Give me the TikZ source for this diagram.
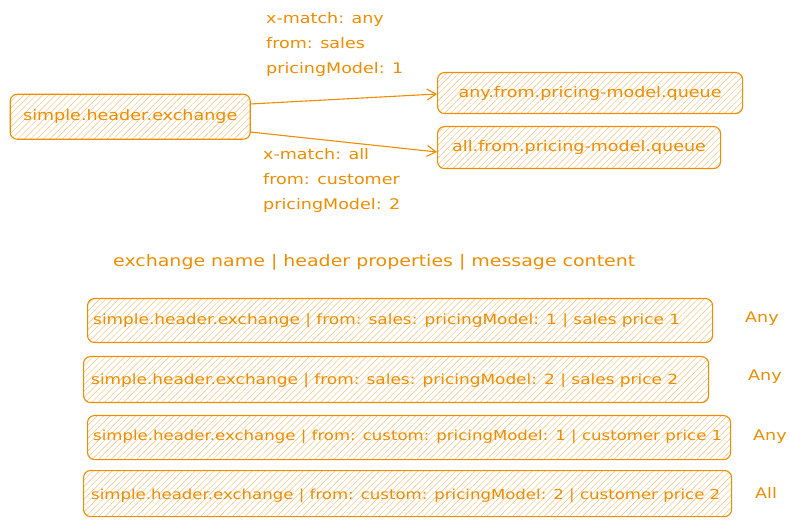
\documentclass[tikz,border=0pt]{standalone}
\usepackage{fontspec}
\setmainfont{DejaVu Sans}[FakeStretch=1.2]
\usetikzlibrary{arrows.meta,patterns.meta}
\definecolor{exo}{HTML}{F08C00}
\tikzset{
  box/.style={draw=exo, line width=1.1pt, rounded corners=7pt,
    pattern={Lines[angle=45,distance=4.5pt,line width=0.45pt]}, pattern color=exo!55,
    inner sep=0pt, anchor=north west},
  txt/.style={text=exo, inner sep=0pt},
  big/.style={txt, font=\fontsize{14.6}{25}\selectfont},
  hdrf/.style={txt, font=\fontsize{15.8}{25}\selectfont},
  small/.style={txt, font=\fontsize{14.1}{16}\selectfont},
  smaller/.style={txt, font=\fontsize{13.8}{16}\selectfont},
  conn/.style={draw=exo, line width=1.1pt, -{Straight Barb[length=9pt,width=11pt,line width=1.1pt]}}
}
\begin{document}
\begin{tikzpicture}[x=1pt,y=-1pt]
\useasboundingbox (0,0) rectangle (790,526);
% top boxes
\node[box, minimum width=240pt, minimum height=45pt] (ex) at (10,94) {};
\node[big] (exT) at (ex.center) {simple.header.exchange};
\node[box, minimum width=305pt, minimum height=41pt] (q1) at (437,72) {};
\node[big] (q1T) at (q1.center) {any.from.pricing-model.queue};
\node[box, minimum width=283pt, minimum height=42pt] (q2) at (437,126) {};
\node[big] (q2T) at (q2.center) {all.from.pricing-model.queue};
% connectors
\coordinate (a1) at (250,104);
\coordinate (a2) at (250,132);
\draw[conn] (a1) -- (q1.west |- 0,94);
\draw[conn] (a2) -- (q2.west |- 0,152);
% labels
\node[big, align=left, anchor=north west] (l1) at (266,12) {x-match: any\\from: sales\\pricingModel: 1};
\node[big, align=left, anchor=north west] (l2) at (263,148) {x-match: all\\from: customer\\pricingModel: 2};
% header
\node[hdrf, anchor=west] (hdr) at (113,262) {exchange name | header properties | message content};
% rows
\node[box, minimum width=625pt, minimum height=44pt] (r1) at (87,298) {};
\node[small, anchor=west] (r1T) at (93,321) {simple.header.exchange | from: sales: pricingModel: 1 | sales price 1};
\node[big, anchor=west] (r1M) at (745,319) {Any};
\node[box, minimum width=625pt, minimum height=46pt] (r2) at (83,356) {};
\node[small, anchor=west] (r2T) at (91,381) {simple.header.exchange | from: sales: pricingModel: 2 | sales price 2};
\node[big, anchor=west] (r2M) at (748,377) {Any};
\node[box, minimum width=643pt, minimum height=44pt] (r3) at (87,415) {};
\node[smaller, anchor=west] (r3T) at (93,437) {simple.header.exchange | from: custom: pricingModel: 1 | customer price 1};
\node[big, anchor=west] (r3M) at (753,437) {Any};
\node[box, minimum width=648pt, minimum height=46pt] (r4) at (83,470) {};
\node[smaller, anchor=west] (r4T) at (91,496) {simple.header.exchange | from: custom: pricingModel: 2 | customer price 2};
\node[big, anchor=west] (r4M) at (755,493) {All};
\end{tikzpicture}
\end{document}
